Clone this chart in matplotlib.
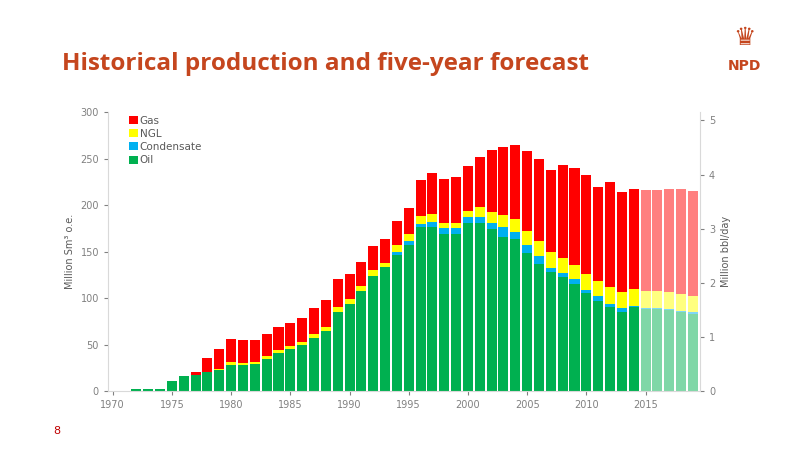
import numpy as np
import matplotlib.pyplot as plt

years = np.arange(1971, 2020)
oil = [0.5, 2, 2, 2, 11, 16, 17, 21, 23, 28, 28, 29, 35, 41, 45, 49, 57, 65, 85, 94,
       108, 124, 133, 146, 157, 176, 176, 169, 169, 181, 181, 174, 166, 163, 148, 137, 128, 123, 115, 105,
       97, 90, 85, 90, 88, 88, 87.5, 84.5, 83]
condensate = [0] * 23 + [3, 4, 4, 6, 6, 6, 6, 6, 7, 10, 8, 9, 8, 4, 4, 5, 4,
                         5, 4, 4, 1, 1, 1, 1, 1.5, 1.5]
ngl = [0] * 8 + [1, 3, 2, 2, 3, 3, 3, 4, 4, 4, 5, 5, 5, 6, 5, 8, 8, 8, 8, 6, 6, 7,
                 11, 12, 13, 14, 15, 16, 17, 16, 16, 17, 16, 18, 18, 19, 19, 19, 18.5, 18, 17.5]
gas = [0] * 6 + [3, 15, 21, 25, 25, 24, 23, 25, 25, 26, 28, 29, 30, 27, 26, 26, 25, 26,
                 28, 39, 44, 47, 49, 48, 54, 66, 73, 80, 86, 88, 89, 100, 104, 106, 101, 113, 107, 107,
                 108, 108, 110, 113, 113]
forecast_start = 2015

oil = np.array(oil); condensate = np.array(condensate)
ngl = np.array(ngl); gas = np.array(gas)

fig = plt.figure(figsize=(8, 4.5), dpi=100)
fig.text(0.078, 0.845, "Historical production and five-year forecast", fontsize=17.5,
         color="#C5461E", fontweight="bold", family="Open Sans")
fig.text(0.067, 0.035, "8", fontsize=8, color="#C00000")
fig.text(0.93, 0.845, "NPD", fontsize=10, color="#C5461E", fontweight="bold", ha="center")
fig.text(0.93, 0.9, "♛", fontsize=18, color="#C5461E", ha="center", family="DejaVu Sans")

ax = fig.add_axes([0.135, 0.131, 0.74, 0.62])
hist = years < forecast_start
series = [("Oil", oil, "#00B050"), ("Condensate", condensate, "#00B0F0"),
          ("NGL", ngl, "#FFFF00"), ("Gas", gas, "#FF0000")]
bottom = np.zeros(len(years))
handles = []
for name, vals, col in series:
    h = ax.bar(years[hist], vals[hist], bottom=bottom[hist], width=0.85, color=col, label=name)
    ax.bar(years[~hist], vals[~hist], bottom=bottom[~hist], width=0.85, color=col, alpha=0.5)
    handles.append(h)
    bottom += vals

ax.set_xlim(1969.6, 2019.6)
ax.set_ylim(0, 300)
ax.set_xticks(range(1970, 2016, 5))
ax.set_yticks(range(0, 301, 50))
ax.set_ylabel("Million Sm³ o.e.", fontsize=7, color="#595959")
for s in ["top", "right"]:
    ax.spines[s].set_visible(False)
ax.spines["left"].set_color("#D9D9D9")
ax.spines["bottom"].set_color("#D9D9D9")
ax.tick_params(labelsize=7, colors="#808080", length=3)
ax.tick_params(axis="x", colors="#808080")

ax2 = ax.twinx()
ax2.set_ylim(0, 300 / 58.2)
ax2.set_yticks(range(0, 6))
ax2.set_ylabel("Million bbl/day", fontsize=7, color="#595959")
for s in ["top", "left", "bottom"]:
    ax2.spines[s].set_visible(False)
ax2.spines["right"].set_color("#D9D9D9")
ax2.tick_params(labelsize=7, colors="#808080", length=3)

ax.legend(handles[::-1], [s[0] for s in series][::-1], loc="upper left",
          bbox_to_anchor=(0.02, 1.02), frameon=False, fontsize=7.5, handlelength=0.8,
          handleheight=0.8, handletextpad=0.2, labelspacing=0.3, labelcolor="#595959")

fig.savefig("out.png")
